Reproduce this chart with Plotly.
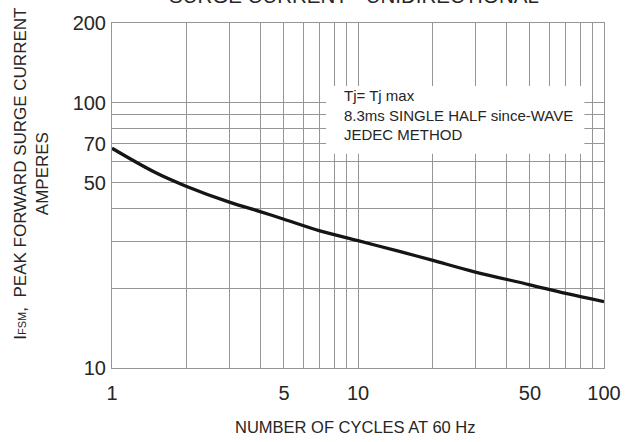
import math
import plotly.graph_objects as go

# Data (curve position calibrated on the axis ends)
cycles = [1, 1.5, 2, 3, 4, 5, 7, 10, 15, 20, 30, 50, 70, 100]
current = [67.4, 54.6, 48.5, 42.2, 38.9, 36.4, 32.9, 30.2, 27.4, 25.5,
           23.0, 20.6, 19.1, 17.8]

x_tickvals = [1, 2, 3, 4, 5, 6, 7, 8, 9, 10, 20, 30, 40, 50, 60, 70, 80, 90, 100]
x_ticktext = ["1", "", "", "", "5", "", "", "", "", "10", "", "", "", "50", "", "", "", "", "100"]
y_tickvals = [10, 20, 30, 40, 50, 60, 70, 80, 90, 100, 200]
y_ticktext = ["10", "", "", "", "50", "", "70", "", "", "100", "200"]

title_text = "SURGE CURRENT - UNIDIRECTIONAL"
x_title = "NUMBER OF CYCLES AT 60 Hz"
y_title = ("I<span style='font-size:11px'>FSM</span>,&nbsp;&nbsp;PEAK FORWARD SURGE CURRENT"
           "<br>AMPERES")
note_text = "Tj= Tj max<br>8.3ms SINGLE HALF since-WAVE<br>JEDEC METHOD"

W, H = 633, 442
L, R, T, B = 112, 20, 12, 74
pw, ph = W - L - R, H - T - B

def px(xpix):
    return (xpix - L) / pw

def py(ypix):
    return (H - B - ypix) / ph

FONT = "Liberation Sans, Arial, sans-serif"
GRID = "#969696"
TXT = "#262626"

fig = go.Figure()
fig.add_trace(go.Scatter(
    x=cycles, y=current, mode="lines",
    line=dict(color="#151515", width=3.3, shape="spline", smoothing=1.0),
    showlegend=False, hoverinfo="skip",
))

fig.update_layout(
    width=W, height=H,
    margin=dict(l=L, r=R, t=T, b=B),
    paper_bgcolor="white", plot_bgcolor="white",
    font=dict(family=FONT, color=TXT),
    xaxis=dict(
        type="log", range=[0, 2],
        tickmode="array", tickvals=x_tickvals, ticktext=x_ticktext,
        showgrid=True, gridcolor=GRID, gridwidth=1,
        showline=True, linecolor=GRID, linewidth=1, mirror=True,
        ticks="", tickfont=dict(size=20, color=TXT),
        ticklabelstandoff=7,
    ),
    yaxis=dict(
        type="log", range=[1, math.log10(200)],
        tickmode="array", tickvals=y_tickvals, ticktext=y_ticktext,
        showgrid=True, gridcolor=GRID, gridwidth=1,
        showline=True, linecolor=GRID, linewidth=1, mirror=True,
        ticks="", tickfont=dict(size=20, color=TXT),
        ticklabelstandoff=1,
    ),
    shapes=[dict(
        type="rect", xref="paper", yref="paper",
        x0=px(330), x1=px(593), y0=py(147), y1=py(77),
        fillcolor="white", line=dict(width=0), layer="above",
    )],
    annotations=[
        dict(text=note_text, xref="paper", yref="paper",
             x=px(346), y=py(76), xanchor="left", yanchor="top",
             align="left", showarrow=False,
             font=dict(size=15, color=TXT, family=FONT)),
        dict(text=y_title, xref="paper", yref="paper",
             x=px(30), y=py(167), xanchor="center", yanchor="middle",
             textangle=-90, align="center", showarrow=False,
             font=dict(size=17, color=TXT, family=FONT)),
        dict(text=x_title, xref="paper", yref="paper",
             x=px(360), y=py(429), xanchor="center", yanchor="middle",
             showarrow=False,
             font=dict(size=16.5, color=TXT, family=FONT)),
        dict(text=title_text, xref="paper", yref="paper",
             x=px(358), y=py(-2), xanchor="center", yanchor="bottom",
             showarrow=False,
             font=dict(size=20.5, color=TXT, family=FONT)),
    ],
)

fig.write_html("out.html")
